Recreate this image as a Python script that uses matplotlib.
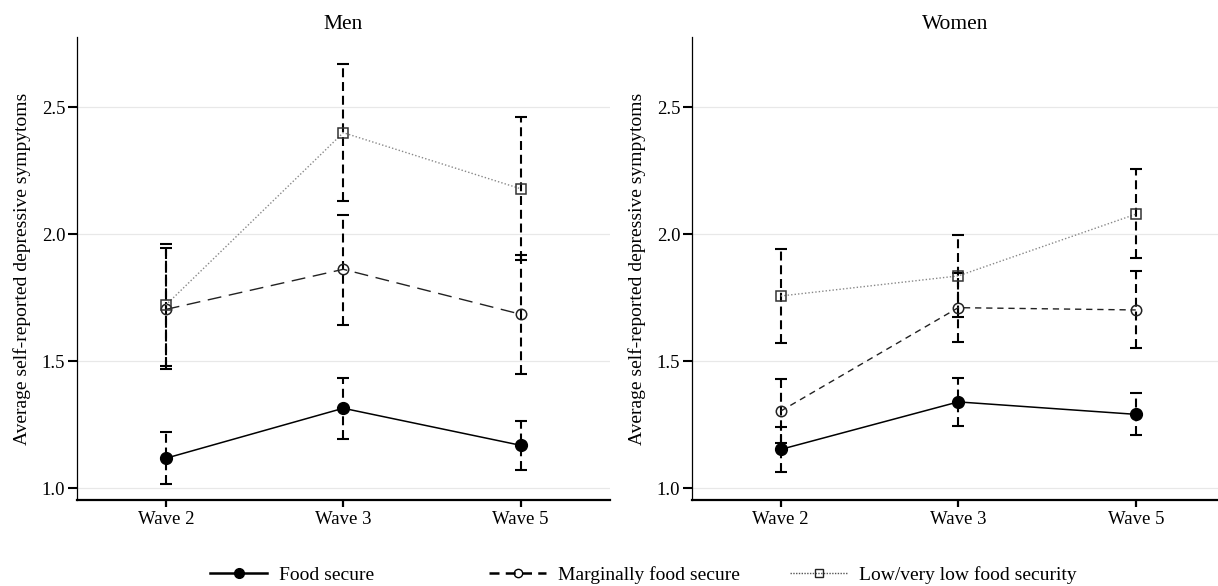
import numpy as np
import matplotlib
matplotlib.use('Agg')
import matplotlib.pyplot as plt
from matplotlib.lines import Line2D

plt.rcParams['font.family'] = ['Liberation Serif', 'DejaVu Serif']

waves = ['Wave 2', 'Wave 3', 'Wave 5']
labels = ['Food secure', 'Marginally food secure', 'Low/very low food security']

# men: means and 95% CI bounds
men_secure = [1.117, 1.314, 1.168]
men_secure_lo = [1.015, 1.193, 1.071]
men_secure_hi = [1.222, 1.434, 1.264]
men_marginal = [1.703, 1.861, 1.684]
men_marginal_lo = [1.467, 1.642, 1.449]
men_marginal_hi = [1.945, 2.075, 1.917]
men_low = [1.720, 2.399, 2.178]
men_low_lo = [1.480, 2.130, 1.898]
men_low_hi = [1.961, 2.668, 2.459]

# women
women_secure = [1.152, 1.339, 1.290]
women_secure_lo = [1.064, 1.245, 1.207]
women_secure_hi = [1.241, 1.434, 1.375]
women_marginal = [1.303, 1.710, 1.701]
women_marginal_lo = [1.176, 1.574, 1.552]
women_marginal_hi = [1.430, 1.846, 1.855]
women_low = [1.756, 1.835, 2.078]
women_low_lo = [1.570, 1.674, 1.904]
women_low_hi = [1.942, 1.996, 2.256]

W, H = 1218, 586
fig = plt.figure(figsize=(W / 100, H / 100), dpi=100)
ax1 = fig.add_axes([77 / W, (H - 500) / H, 533 / W, 463 / H])
ax2 = fig.add_axes([692 / W, (H - 500) / H, 526 / W, 463 / H])

x = np.arange(1, 4)
eb_style = (0, (4.3, 2.3))

styles = [
    dict(color='black', linestyle='-', lw=1.1, marker='o', ms=8.5, mfc='black', mec='black'),
    dict(color='#222222', linestyle=(0, (10, 5.5)), lw=1.0, marker='o', ms=7.5, mfc='none', mec='#222222', mew=1.1),
    dict(color='#888888', linestyle=(0, (1, 1.5)), lw=1.0, marker='s', ms=7.5, mfc='none', mec='#333333', mew=1.1),
]


def panel(ax, title, series, marg_dash):
    for i, (m, lo, hi) in enumerate(series):
        m = np.array(m)
        err = [m - np.array(lo), np.array(hi) - m]
        eb = ax.errorbar(x, m, yerr=err, fmt='none', ecolor='black', elinewidth=1.5,
                         capsize=4.5, capthick=1.5, zorder=2)
        eb[2][0].set_linestyle(eb_style)
        st = dict(styles[i])
        if i == 1:
            st['linestyle'] = marg_dash
        ax.plot(x, m, zorder=3, **st)
    ax.set_xlim(0.5, 0.5 + ax.get_position().width * W / 177.5)
    ax.set_ylim(0.9528, 2.7756)
    ax.set_xticks(x)
    ax.set_xticklabels(waves)
    ax.set_yticks([1.0, 1.5, 2.0, 2.5])
    ax.set_yticklabels(['1.0', '1.5', '2.0', '2.5'])
    ax.tick_params(axis='x', length=5, width=1.6, labelsize=13.5, pad=3, color='black')
    ax.tick_params(axis='y', length=6.5, width=1.5, labelsize=13.5, pad=2, color='black')
    ax.grid(axis='y', color='#e8e8e8', lw=0.9)
    ax.set_axisbelow(True)
    for s in ['top', 'right']:
        ax.spines[s].set_visible(False)
    ax.spines['left'].set_linewidth(0.9)
    ax.spines['bottom'].set_linewidth(1.6)
    ax.set_title(title, fontsize=15.5, pad=6)
    ax.set_ylabel('Average self-reported depressive sympytoms', fontsize=14)
    wpx = ax.get_position().width * W
    ax.yaxis.set_label_coords(-46 / wpx, 0.5)


panel(ax1, 'Men', [(men_secure, men_secure_lo, men_secure_hi),
                   (men_marginal, men_marginal_lo, men_marginal_hi),
                   (men_low, men_low_lo, men_low_hi)], (0, (10, 5.5)))
panel(ax2, 'Women', [(women_secure, women_secure_lo, women_secure_hi),
                     (women_marginal, women_marginal_lo, women_marginal_hi),
                     (women_low, women_low_lo, women_low_hi)], (0, (4.5, 3.5)))

# legend entries, one per block along the bottom
handles = [
    Line2D([], [], color='black', linestyle='-', lw=1.8, marker='o', ms=7, mfc='black', mec='black'),
    Line2D([], [], color='black', linestyle=(0, (4, 2.5)), lw=1.8, marker='o', ms=6, mfc='none', mec='black', mew=1),
    Line2D([], [], color='#555555', linestyle=(0, (1, 1)), lw=1.0, marker='s', ms=6, mfc='none', mec='#222222', mew=1),
]
leg_x = [210, 489, 790]
for h, lab, lx in zip(handles, labels, leg_x):
    fig.legend([h], [lab], loc='center left', bbox_to_anchor=(lx / W, (H - 575) / H),
               frameon=False, fontsize=14, handlelength=2.95, handletextpad=0.6,
               borderpad=0, borderaxespad=0)

plt.savefig('out.png', dpi=100)
